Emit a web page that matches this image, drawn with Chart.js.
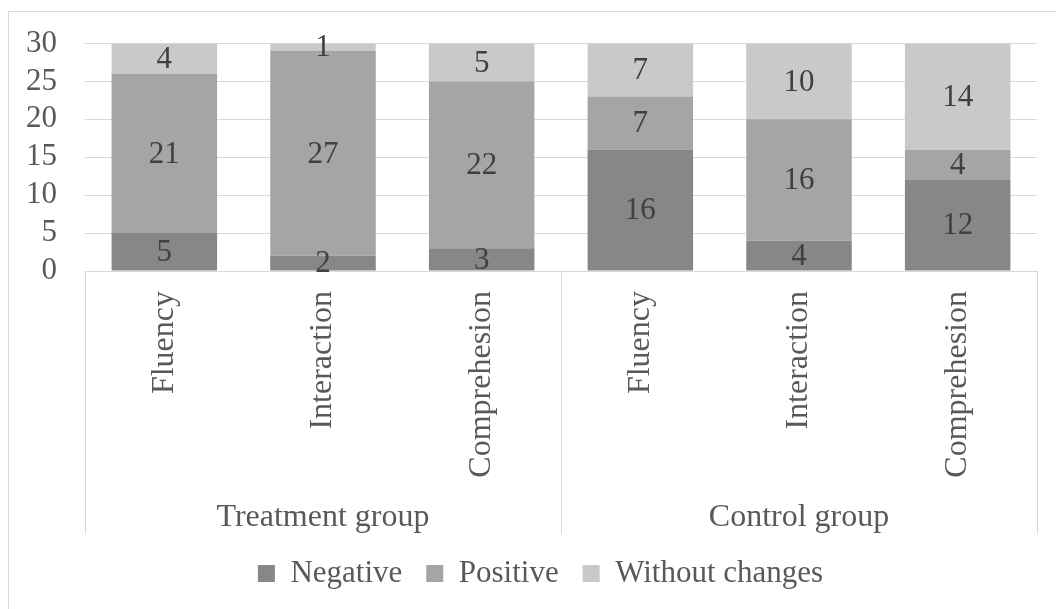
<!DOCTYPE html>
<html>
<head>
<meta charset="utf-8">
<script src="https://cdn.jsdelivr.net/npm/chart.js@4.4.1/dist/chart.umd.min.js"></script>
<style>
  html, body { margin: 0; padding: 0; background: #fff; }
  #wrap { width: 1056px; height: 609px; }
</style>
</head>
<body>
<div id="wrap"><canvas id="statsChart"></canvas></div>
<script>
const categories = ["Fluency", "Interaction", "Comprehesion", "Fluency", "Interaction", "Comprehesion"];
const groups = ["Treatment group", "Control group"];
const groupSizes = [3, 3];
const negative = [5, 2, 3, 16, 4, 12];
const positive = [21, 27, 22, 7, 16, 4];
const withoutChanges = [4, 1, 5, 7, 10, 14];
const yMin = 0;
const yMax = 30;
const yStep = 5;

const FONT = "'Liberation Serif', 'Times New Roman', serif";
const TEXT = "#595959";
const LINE = "#d9d9d9";
const TABLE_H = 263;

// frame, category table lines and group names
const tablePlugin = {
  id: "table",
  afterLayout(chart) {
    // legend sits a little right of the canvas centre in the original
    chart.legend.left += 22;
    chart.legend.right += 22;
  },
  beforeDraw(chart) {
    const ctx = chart.ctx;
    ctx.save();
    ctx.strokeStyle = LINE;
    ctx.lineWidth = 1;
    ctx.strokeRect(8.5, 11.5, 1200, 800);
    ctx.restore();
  },
  afterDraw(chart) {
    const ctx = chart.ctx;
    const x = chart.scales.x;
    const top = chart.chartArea.bottom;
    const bottom = top + TABLE_H;
    const step = (x.right - x.left) / categories.length;
    ctx.save();
    ctx.strokeStyle = LINE;
    ctx.lineWidth = 1;
    let idx = 0;
    const edges = [0];
    groupSizes.forEach((n) => { idx += n; edges.push(idx); });
    edges.forEach((e) => {
      const px = Math.round(x.left + e * step) + 0.5;
      ctx.beginPath();
      ctx.moveTo(px, top);
      ctx.lineTo(px, bottom);
      ctx.stroke();
    });
    ctx.fillStyle = TEXT;
    ctx.font = "32px " + FONT;
    ctx.textAlign = "center";
    ctx.textBaseline = "middle";
    groups.forEach((g, i) => {
      const cx = x.left + ((edges[i] + edges[i + 1]) / 2) * step;
      ctx.fillText(g, cx, bottom - 16);
    });
    ctx.restore();
  },
};

// value labels in the middle of each segment
const valuePlugin = {
  id: "values",
  afterDatasetsDraw(chart) {
    const ctx = chart.ctx;
    ctx.save();
    ctx.fillStyle = "#404040";
    ctx.font = "31px " + FONT;
    ctx.textAlign = "center";
    ctx.textBaseline = "middle";
    chart.data.datasets.forEach((ds, i) => {
      chart.getDatasetMeta(i).data.forEach((bar, j) => {
        ctx.fillText(String(ds.data[j]), bar.x, (bar.y + bar.base) / 2 + 1);
      });
    });
    ctx.restore();
  },
};

const ctx = document.getElementById("statsChart").getContext("2d");
const myChart = new Chart(ctx, {
  type: "bar",
  data: {
    labels: categories,
    datasets: [
      { label: "Negative", data: negative, backgroundColor: "#878787", borderColor: "#878787", borderWidth: 0 },
      { label: "Positive", data: positive, backgroundColor: "#a5a5a5", borderColor: "#a5a5a5", borderWidth: 0 },
      { label: "Without changes", data: withoutChanges, backgroundColor: "#c9c9c9", borderColor: "#c9c9c9", borderWidth: 0 },
    ],
  },
  options: {
    responsive: true,
    maintainAspectRatio: false,
    animation: false,
    layout: { padding: { left: 0, right: 19, top: 42, bottom: 10 } },
    datasets: { bar: { barPercentage: 0.665, categoryPercentage: 1 } },
    plugins: {
      legend: {
        position: "bottom",
        labels: {
          boxWidth: 17,
          boxHeight: 17,
          padding: 24,
          color: TEXT,
          font: { family: FONT, size: 31 },
        },
      },
      tooltip: { enabled: false },
    },
    scales: {
      x: {
        stacked: true,
        grid: { display: false },
        border: { display: false },
        ticks: {
          autoSkip: false,
          minRotation: 90,
          maxRotation: 90,
          padding: 12,
          color: TEXT,
          font: { family: FONT, size: 32 },
        },
        afterFit: (scale) => { scale.height = TABLE_H; },
      },
      y: {
        stacked: true,
        min: yMin,
        max: yMax,
        grid: { color: LINE, drawTicks: false },
        border: { display: false },
        ticks: {
          stepSize: yStep,
          autoSkip: false,
          padding: 28,
          color: TEXT,
          font: { family: FONT, size: 31, lineHeight: 1 },
        },
        afterFit: (scale) => { scale.width = 85; },
      },
    },
  },
  plugins: [tablePlugin, valuePlugin],
});
</script>
</body>
</html>
